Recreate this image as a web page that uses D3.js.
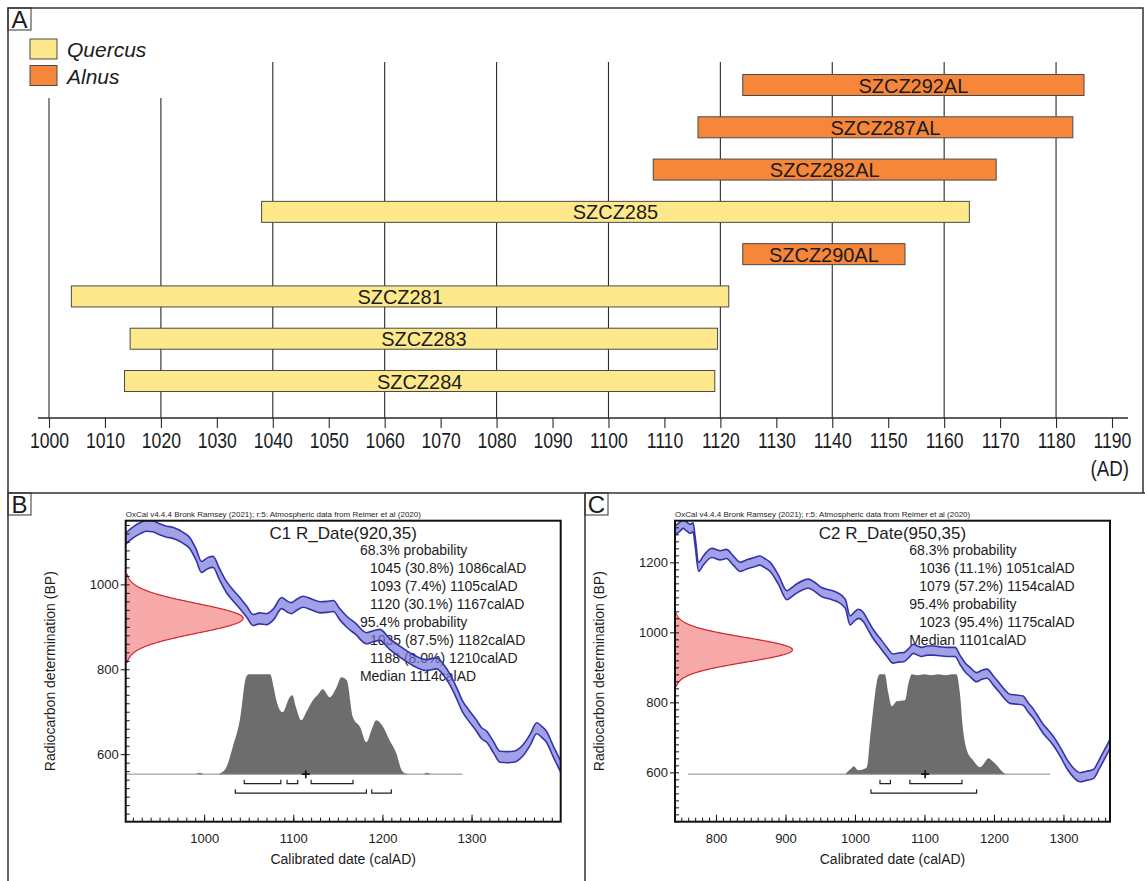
<!DOCTYPE html>
<html>
<head>
<meta charset="utf-8">
<script src="https://cdn.jsdelivr.net/npm/d3@7"></script>
<style>
  body { margin: 0; background: #fff; }
  svg { display: block; }
  text { font-family: "Liberation Sans", Arial, Helvetica, sans-serif; fill: #1c1c1c; }
</style>
</head>
<body>
<div id="figure"></div>
<script>
// ---------- Panel A: dated samples ----------
const samples   = ["SZCZ292AL", "SZCZ287AL", "SZCZ282AL", "SZCZ285", "SZCZ290AL", "SZCZ281", "SZCZ283", "SZCZ284"];
const taxon     = ["Alnus", "Alnus", "Alnus", "Quercus", "Alnus", "Quercus", "Quercus", "Quercus"];
const startYear = [1124, 1116, 1108, 1038, 1124, 1004, 1014.5, 1013.5];
const endYear   = [1185, 1183, 1169.3, 1164.5, 1153, 1121.5, 1119.5, 1119];
const legendTaxa = ["Quercus", "Alnus"];
const yearTicks = d3.range(1000, 1191, 10);
const gridYears = d3.range(1000, 1181, 20);

// ---------- Panel B: C1 ----------
const titleB = "C1 R_Date(920,35)";
const bpB = 920, errB = 35;
const probTextB = ["68.3% probability", "1045 (30.8%) 1086calAD", "1093 (7.4%) 1105calAD", "1120 (30.1%) 1167calAD",
                   "95.4% probability", "1035 (87.5%) 1182calAD", "1188 (8.0%) 1210calAD", "Median 1114calAD"];
const range68B = [[1045, 1086], [1093, 1105], [1120, 1167]];
const range95B = [[1035, 1182], [1188, 1210]];
const medianB = 1114;
const xDomainB = [912, 1400];
const yDomainB = [441, 1150];
const xMajorB = [1000, 1100, 1200, 1300];
const yMajorB = [600, 800, 1000];
const postSpanB = [912, 1290];
const postYearB = [912, 990, 995, 1000, 1015, 1020, 1025, 1032, 1040, 1047, 1050, 1062, 1074, 1078, 1081, 1088, 1096, 1099, 1103, 1109,
                   1115, 1122, 1128, 1133, 1141, 1148, 1154, 1160, 1167, 1175, 1182, 1188, 1193, 1201, 1208, 1216, 1221, 1225, 1230, 1245,
                   1250, 1255, 1290];
const postProbB = [0, 0, 0.015, 0, 0, 0.02, 0.07, 0.27, 0.54, 0.97, 1, 1, 1, 0.87, 0.74, 0.62, 0.77, 0.79, 0.67, 0.54,
                   0.63, 0.74, 0.8, 0.85, 0.77, 0.86, 0.97, 0.94, 0.57, 0.47, 0.32, 0.45, 0.54, 0.47, 0.34, 0.2, 0.05, 0.01, 0, 0,
                   0.015, 0, 0];
const curveYearB = [912, 920, 928, 935, 942, 950, 958, 964, 969, 976, 984, 991, 997, 1004, 1010, 1017, 1025, 1032, 1040, 1048,
                    1055, 1062, 1070, 1078, 1087, 1093, 1098, 1104, 1111, 1120, 1130, 1138, 1145, 1152, 1160, 1170, 1182, 1190, 1197, 1208,
                    1220, 1234, 1249, 1261, 1268, 1276, 1283, 1290, 1298, 1305, 1311, 1317, 1325, 1332, 1340, 1347, 1358, 1366, 1373, 1379,
                    1384, 1392, 1400];
const curveBpB = [1108, 1122, 1132, 1138, 1137, 1130, 1124, 1122, 1118, 1110, 1097, 1070, 1041, 1050, 1053, 1025, 994, 975, 956, 935,
                  916, 920, 918, 930, 956, 948, 944, 952, 959, 953, 946, 947, 949, 930, 912, 895, 873, 878, 881, 860,
                  841, 822, 810, 814, 800, 775, 745, 712, 688, 669, 650, 641, 615, 594, 593, 594, 610, 635, 661, 652,
                  641, 605, 571];

// ---------- Panel C: C2 ----------
const titleC = "C2 R_Date(950,35)";
const bpC = 950, errC = 35;
const probTextC = ["68.3% probability", "1036 (11.1%) 1051calAD", "1079 (57.2%) 1154calAD",
                   "95.4% probability", "1023 (95.4%) 1175calAD", "Median 1101calAD"];
const range68C = [[1036, 1051], [1079, 1154]];
const range95C = [[1023, 1175]];
const medianC = 1101;
const xDomainC = [741, 1367];
const yDomainC = [459, 1319];
const xMajorC = [800, 900, 1000, 1100, 1200, 1300];
const yMajorC = [600, 800, 1000, 1200];
const postSpanC = [760, 1281];
const postYearC = [760, 985, 990, 995, 998, 1005, 1012, 1017, 1022, 1029, 1033, 1036, 1043, 1048, 1053, 1060, 1072, 1077, 1082, 1090,
                   1100, 1110, 1120, 1130, 1140, 1146, 1151, 1155, 1161, 1170, 1180, 1186, 1192, 1198, 1204, 1213, 1218, 1283];
const postProbC = [0, 0, 0.03, 0.06, 0.08, 0.04, 0.05, 0.07, 0.38, 0.81, 0.97, 1, 1, 0.81, 0.68, 0.73, 0.74, 0.91, 1, 0.99,
                   1, 0.99, 1, 0.99, 1, 1, 0.81, 0.48, 0.24, 0.14, 0.07, 0.11, 0.16, 0.13, 0.09, 0.02, 0, 0];
const curveYearC = [741, 747, 753, 758, 763, 767, 770, 775, 782, 794, 806, 815, 825, 835, 845, 854, 863, 870, 878, 890,
                    902, 909, 916, 933, 942, 952, 964, 974, 986, 993, 999, 1005, 1012, 1019, 1026, 1036, 1046, 1055, 1062, 1070,
                    1077, 1084, 1090, 1096, 1104, 1113, 1122, 1132, 1144, 1151, 1158, 1166, 1175, 1182, 1190, 1200, 1209, 1216, 1223, 1232,
                    1242, 1249, 1257, 1264, 1271, 1278, 1285, 1295, 1305, 1314, 1324, 1333, 1343, 1352, 1362, 1367];
const curveBpC = [1292, 1300, 1310, 1302, 1296, 1300, 1260, 1187, 1206, 1227, 1220, 1224, 1205, 1187, 1195, 1200, 1205, 1198, 1187, 1150,
                  1106, 1115, 1125, 1139, 1130, 1115, 1108, 1101, 1082, 1034, 1045, 1053, 1044, 1020, 996, 970, 944, 925, 928, 929,
                  940, 953, 948, 944, 948, 948, 946, 944, 944, 922, 901, 886, 872, 878, 882, 860, 839, 822, 810, 808,
                  805, 786, 767, 745, 724, 708, 691, 660, 624, 600, 586, 590, 595, 625, 662, 681];

const curveErr = 13;   // half width of the calibration band (BP)
const oxcalNote = "OxCal v4.4.4 Bronk Ramsey (2021); r:5: Atmospheric data from Reimer et al (2020)";

// ---------- figure ----------
const W = 1145, H = 881;
const svg = d3.select("#figure").append("svg").attr("width", W).attr("height", H);

const taxonColor = { Quercus: "#fde98b", Alnus: "#f5863a" };
const frameColor = "#333";

// outer borders and panel separators
svg.append("path")
  .attr("d", "M8,881V8H1143V493M8,493H1145M585,493V881")
  .attr("fill", "none").attr("stroke", frameColor).attr("stroke-width", 1.5);

// panel letters
[["A", 8, 8], ["B", 8, 493], ["C", 585, 493]].forEach(([t, x, y]) => {
  svg.append("rect").attr("x", x).attr("y", y).attr("width", 23).attr("height", 22)
    .attr("fill", "none").attr("stroke", frameColor).attr("stroke-width", 1);
  svg.append("text").attr("x", x + 11.5).attr("y", y + 19.5).attr("text-anchor", "middle")
    .style("font-size", "24px").text(t);
});

// ---------- Panel A ----------
const xA = d3.scaleLinear().domain([1000, 1190]).range([49, 1112]);
const yA = d3.scalePoint().domain(samples).range([85, 381]);
const axisY = 418;

const gA = svg.append("g");

gA.selectAll("line.grid")
  .data(gridYears)
  .enter().append("line")
  .attr("class", "grid")
  .attr("x1", d => xA(d)).attr("x2", d => xA(d))
  .attr("y1", d => xA(d) < 200 ? 98 : 62)
  .attr("y2", axisY)
  .attr("stroke", "#2a2a2a").attr("stroke-width", 1.1);

gA.selectAll("rect.bar")
  .data(samples)
  .enter().append("rect")
  .attr("class", "bar")
  .attr("x", (d, i) => xA(startYear[i]))
  .attr("y", d => yA(d) - 10.5)
  .attr("width", (d, i) => xA(endYear[i]) - xA(startYear[i]))
  .attr("height", 21)
  .attr("fill", (d, i) => taxonColor[taxon[i]])
  .attr("stroke", "#4a4a4a").attr("stroke-width", 1);

gA.selectAll("text.barlabel")
  .data(samples)
  .enter().append("text")
  .attr("class", "barlabel")
  .attr("transform", (d, i) => `translate(${(xA(startYear[i]) + xA(endYear[i])) / 2},${yA(d) + 7.5}) scale(0.95,1)`)
  .attr("text-anchor", "middle")
  .style("font-size", "21px")
  .text(d => d);

// axis
const axisA = gA.append("g")
  .attr("transform", `translate(0,${axisY})`)
  .call(d3.axisBottom(xA).tickValues(yearTicks).tickSize(10).tickSizeOuter(0).tickFormat(d3.format("d")));
axisA.select(".domain").remove();
axisA.selectAll(".tick line").attr("stroke", "#2a2a2a").attr("stroke-width", 1.1);
axisA.selectAll(".tick text")
  .attr("y", 0).attr("dy", 0)
  .attr("transform", "translate(0,30) scale(0.8,1)")
  .style("font-size", "22px")
  .style("font-family", "'Liberation Sans', Arial, sans-serif")
  .attr("fill", "#1c1c1c");
gA.append("line")
  .attr("x1", xA(1000) - 11).attr("x2", xA(1190) + 16)
  .attr("y1", axisY).attr("y2", axisY)
  .attr("stroke", "#2a2a2a").attr("stroke-width", 1.3);
gA.append("text")
  .attr("transform", `translate(${xA(1190) + 17},476) scale(0.85,1)`)
  .attr("text-anchor", "end").style("font-size", "22px").text("(AD)");

// legend
legendTaxa.forEach((t, i) => {
  svg.append("rect").attr("x", 30).attr("y", 39 + i * 26.5).attr("width", 27).attr("height", 20)
    .attr("fill", taxonColor[t]).attr("stroke", "#4a4a4a").attr("stroke-width", 1);
  svg.append("text").attr("x", 67).attr("y", 57 + i * 26.5)
    .style("font-size", "21px").style("font-style", "italic").text(t);
});

// ---------- Panels B and C ----------
function drawCalibration(p) {
  const left = p.left, right = p.left + 435, top = 520.7, bottom = 821.7;
  const fh = bottom - top, fw = right - left;
  const g = svg.append("g");
  const x = d3.scaleLinear().domain(p.xDomain).range([left, right]);
  const y = d3.scaleLinear().domain(p.yDomain).range([bottom, top]);
  const base = bottom - 0.158 * fh;
  const py = d3.scaleLinear().domain([0, 1]).range([base, base - 0.332 * fh]);
  const px = d3.scaleLinear().domain([0, 1]).range([left, left + 0.27 * fw]);

  const clipId = "clip" + p.key;
  svg.append("clipPath").attr("id", clipId)
    .append("rect").attr("x", left).attr("y", top).attr("width", fw).attr("height", fh);

  // OxCal note
  g.append("text").attr("x", left).attr("y", top - 4)
    .style("font-size", "8px").attr("fill", "#333").text(oxcalNote);

  // posterior (calibrated) distribution
  const post = p.postYear.map((d, i) => ({ yr: d, p: p.postProb[i] }));
  g.append("path").datum(post)
    .attr("d", d3.area().x(d => x(d.yr)).y0(base).y1(d => py(d.p)).curve(d3.curveMonotoneX))
    .attr("fill", "#6d6d6d");
  g.append("line")
    .attr("x1", x(p.postSpan[0])).attr("x2", x(p.postSpan[1]))
    .attr("y1", base).attr("y2", base)
    .attr("stroke", "#8a8a8a").attr("stroke-width", 1);

  // probability range brackets
  const bracket = (r, yy) => `M${x(r[0])},${yy - 4}V${yy}H${x(r[1])}V${yy - 4}`;
  g.selectAll("path.r68").data(p.range68).enter().append("path")
    .attr("d", d => bracket(d, base + 9.5))
    .attr("fill", "none").attr("stroke", "#222").attr("stroke-width", 1.2);
  g.selectAll("path.r95").data(p.range95).enter().append("path")
    .attr("d", d => bracket(d, base + 19))
    .attr("fill", "none").attr("stroke", "#222").attr("stroke-width", 1.2);
  g.append("path")
    .attr("d", `M${x(p.median) - 4},${base}H${x(p.median) + 4}M${x(p.median)},${base - 4}V${base + 4}`)
    .attr("stroke", "#111").attr("stroke-width", 1.6);

  // radiocarbon likelihood (normal distribution on BP axis)
  const like = d3.range(p.bp - 3 * p.err, p.bp + 3 * p.err + 0.1, 1)
    .map(b => ({ b: b, p: Math.exp(-0.5 * Math.pow((b - p.bp) / p.err, 2)) }));
  g.append("path").datum(like)
    .attr("d", d3.area().y(d => y(d.b)).x0(left).x1(d => px(d.p)))
    .attr("fill", "#f7a9a9");
  g.append("path").datum(like)
    .attr("d", d3.line().y(d => y(d.b)).x(d => px(d.p)))
    .attr("fill", "none").attr("stroke", "#d0262c").attr("stroke-width", 1.2);

  // title and probability text
  g.append("text").attr("x", (left + right) / 2).attr("y", top + 18.5)
    .attr("text-anchor", "middle").style("font-size", "17px").text(p.title);
  p.probText.forEach((t, i) => {
    g.append("text")
      .attr("x", (left + right) / 2 + 16.7 + (/^\d{4} \(/.test(t) ? 10 : 0))
      .attr("y", top + 34.3 + i * 18)
      .style("font-size", "14px").text(t);
  });

  // calibration curve band
  const curve = p.curveYear.map((d, i) => ({ yr: d, bp: p.curveBp[i] }));
  g.append("path").datum(curve)
    .attr("clip-path", `url(#${clipId})`)
    .attr("d", d3.area().x(d => x(d.yr)).y0(d => y(d.bp - curveErr)).y1(d => y(d.bp + curveErr)).curve(d3.curveMonotoneX))
    .attr("fill", "#7474dc").attr("fill-opacity", 0.68)
    .attr("stroke", "#3434a8").attr("stroke-width", 1.6);

  // axes
  const styleAxis = a => {
    a.select(".domain").remove();
    a.selectAll(".tick line").attr("stroke", "#111");
    a.selectAll(".tick text").style("font-size", "13px").attr("fill", "#1c1c1c");
  };
  const xMinor = d3.range(Math.ceil(p.xDomain[0] / 10) * 10, p.xDomain[1], 10);
  g.append("g").attr("transform", `translate(0,${bottom})`)
    .call(d3.axisBottom(x).tickValues(xMinor).tickSize(-4).tickFormat(""))
    .call(styleAxis);
  g.append("g").attr("transform", `translate(0,${bottom})`)
    .call(d3.axisBottom(x).tickValues(p.xMajor).tickSize(-7).tickPadding(12).tickFormat(d3.format("d")))
    .call(styleAxis);
  const yMinor = d3.range(Math.ceil(p.yDomain[0] / 20) * 20, p.yDomain[1], 20);
  g.append("g").attr("transform", `translate(${left},0)`)
    .call(d3.axisLeft(y).tickValues(yMinor).tickSize(-4).tickFormat(""))
    .call(styleAxis);
  g.append("g").attr("transform", `translate(${left},0)`)
    .call(d3.axisLeft(y).tickValues(p.yMajor).tickSize(5).tickPadding(2).tickFormat(d3.format("d")))
    .call(styleAxis);

  // frame
  g.append("rect").attr("x", left).attr("y", top).attr("width", fw).attr("height", fh)
    .attr("fill", "none").attr("stroke", "#111").attr("stroke-width", 2);

  // axis titles
  g.append("text").attr("x", (left + right) / 2).attr("y", 864)
    .attr("text-anchor", "middle").style("font-size", "14px").text("Calibrated date (calAD)");
  g.append("text")
    .attr("transform", `translate(${left - 71},${(top + bottom) / 2}) rotate(-90)`)
    .attr("text-anchor", "middle").style("font-size", "14px").text("Radiocarbon determination (BP)");
}

drawCalibration({
  key: "B", left: 125.7, title: titleB, bp: bpB, err: errB, probText: probTextB,
  range68: range68B, range95: range95B, median: medianB,
  xDomain: xDomainB, yDomain: yDomainB, xMajor: xMajorB, yMajor: yMajorB,
  postSpan: postSpanB, postYear: postYearB, postProb: postProbB,
  curveYear: curveYearB, curveBp: curveBpB
});
drawCalibration({
  key: "C", left: 675, title: titleC, bp: bpC, err: errC, probText: probTextC,
  range68: range68C, range95: range95C, median: medianC,
  xDomain: xDomainC, yDomain: yDomainC, xMajor: xMajorC, yMajor: yMajorC,
  postSpan: postSpanC, postYear: postYearC, postProb: postProbC,
  curveYear: curveYearC, curveBp: curveBpC
});
</script>
</body>
</html>
